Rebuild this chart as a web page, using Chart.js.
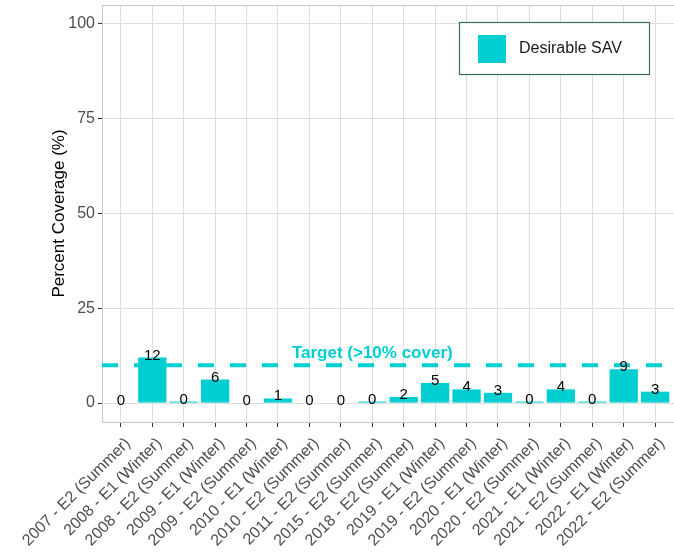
<!DOCTYPE html>
<html>
<head>
<meta charset="utf-8">
<script src="https://cdn.jsdelivr.net/npm/chart.js@4.4.1/dist/chart.umd.min.js"></script>
<style>
  html, body { margin: 0; padding: 0; background: #fff; }
  #wrap { width: 674px; height: 558px; position: relative; }
</style>
</head>
<body>
<div id="wrap"><canvas id="coverChart"></canvas></div>
<script>
// 조사 회차 (연도 - 이벤트 (계절))
const surveys = [
  "2007 - E2 (Summer)", "2008 - E1 (Winter)", "2008 - E2 (Summer)",
  "2009 - E1 (Winter)", "2009 - E2 (Summer)", "2010 - E1 (Winter)",
  "2010 - E2 (Summer)", "2011 - E2 (Summer)", "2015 - E2 (Summer)",
  "2018 - E2 (Summer)", "2019 - E1 (Winter)", "2019 - E2 (Summer)",
  "2020 - E1 (Winter)", "2020 - E2 (Summer)", "2021 - E1 (Winter)",
  "2021 - E2 (Summer)", "2022 - E1 (Winter)", "2022 - E2 (Summer)"
];
// 피복률 (%)
const coverage = [0, 12, 0.4, 6.2, 0, 1.2, 0, 0, 0.4, 1.6, 5.3, 3.6, 2.7, 0.4, 3.6, 0.4, 8.9, 3.0];
const yTicks = [0, 25, 50, 75, 100];

// 목표선
const targetValue = 10;
const targetText = "Target (>10% cover)";
const targetTextX = 8;
const targetTextY = 13.2;

const seriesName = "Desirable SAV";
const barColor = "#00CED1";
const fontFamily = '"Liberation Sans", Arial, sans-serif';

const ctx = document.querySelector("#coverChart");

// 막대 위 숫자, 목표 문구, 범례
const extras = {
  id: "extras",
  beforeDatasetsDraw(chart) {
    const { ctx, chartArea } = chart;
    ctx.save();
    ctx.strokeStyle = "#C8C8C8";
    ctx.lineWidth = 1;
    ctx.strokeRect(Math.round(chartArea.left) + 0.5, Math.round(chartArea.top) + 0.5,
      chartArea.right - chartArea.left, chartArea.bottom - chartArea.top);
    ctx.restore();
  },
  afterDatasetsDraw(chart) {
    const { ctx, chartArea, scales } = chart;
    const meta = chart.getDatasetMeta(1);
    ctx.save();
    ctx.font = "15px " + fontFamily;
    ctx.fillStyle = "#000";
    ctx.textAlign = "center";
    ctx.textBaseline = "alphabetic";
    meta.data.forEach((bar, i) => {
      ctx.fillText(String(Math.round(coverage[i])), bar.x, bar.y + 2);
    });

    ctx.font = "bold 17px " + fontFamily;
    ctx.fillStyle = barColor;
    ctx.textBaseline = "middle";
    ctx.fillText(targetText, scales.x.getPixelForValue(targetTextX), scales.y.getPixelForValue(targetTextY));

    // 범례
    const lx = chartArea.right - 215, ly = chartArea.top + 17;
    ctx.fillStyle = "#fff";
    ctx.fillRect(lx, ly, 190, 52);
    ctx.strokeStyle = "#3D6B55";
    ctx.lineWidth = 1.2;
    ctx.strokeRect(lx + 0.5, ly + 0.5, 190, 52);
    ctx.fillStyle = barColor;
    ctx.fillRect(lx + 19, ly + 13, 28, 28);
    ctx.fillStyle = "#1a1a1a";
    ctx.font = "16px " + fontFamily;
    ctx.textAlign = "left";
    ctx.fillText(seriesName, lx + 60, ly + 27);
    ctx.restore();
  }
};

new Chart(ctx, {
  type: "bar",
  data: {
    datasets: [
      {
        type: "line",
        label: "target",
        data: [{ x: -0.6, y: targetValue }, { x: 17.6, y: targetValue }],
        borderColor: barColor,
        borderWidth: 4,
        borderDash: [16, 16],
        borderCapStyle: "butt",
        pointRadius: 0,
        order: 0
      },
      {
        label: seriesName,
        data: coverage.map((v, i) => ({ x: i, y: v })),
        backgroundColor: barColor,
        barPercentage: 0.9,
        categoryPercentage: 1.0,
        order: 1
      }
    ]
  },
  options: {
    responsive: true,
    maintainAspectRatio: false,
    animation: false,
    layout: { padding: { top: 5, left: 0, right: -2, bottom: 0 } },
    plugins: {
      legend: { display: false },
      tooltip: { enabled: false }
    },
    scales: {
      x: {
        type: "linear",
        offset: false,
        min: -0.6,
        max: 17.6,
        afterBuildTicks: (s) => { s.ticks = surveys.map((_, i) => ({ value: i })); },
        afterFit: (s) => { s.height = 136; s.paddingLeft = 0; s.paddingRight = 0; },
        grid: { color: "#DEDEDE", tickLength: 5, tickColor: "#333", offset: false },
        border: { display: false },
        ticks: {
          autoSkip: false,
          minRotation: 45,
          maxRotation: 45,
          padding: 7,
          labelOffset: 7,
          color: "#4D4D4D",
          font: { size: 16, family: fontFamily },
          callback: (v) => surveys[v]
        }
      },
      y: {
        min: -5,
        max: 105,
        afterBuildTicks: (s) => { s.ticks = yTicks.map((v) => ({ value: v })); },
        afterFit: (s) => { s.width = 102; s.paddingTop = 0; s.paddingBottom = 0; },
        grid: { color: "#DEDEDE", tickLength: 4, tickColor: "#333" },
        border: { display: false },
        ticks: {
          padding: 3,
          color: "#4D4D4D",
          font: { size: 16, family: fontFamily }
        },
        title: {
          display: true,
          text: "Percent Coverage (%)",
          color: "#000",
          font: { size: 17, family: fontFamily },
          padding: { top: 49, bottom: 0 }
        }
      }
    }
  },
  plugins: [extras]
});
</script>
</body>
</html>
